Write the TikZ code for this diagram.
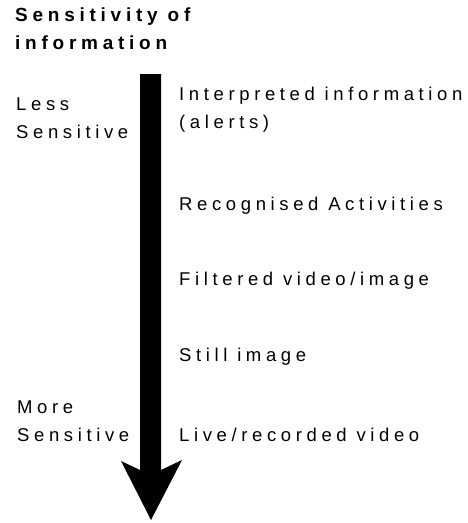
\documentclass[tikz,border=0pt]{standalone}
\usepackage{fontspec}
\setmainfont{Liberation Sans}[LetterSpace=25]
\newcommand{\sensitivityarrow}[1][]
{\begin{scope}
	\coordinate (T1) at (140pt,-74pt);
	\coordinate (T2) at (161pt,-74pt);
	\coordinate (N2) at (161pt,-470pt);
	\coordinate (H2) at (182pt,-460pt);
	\coordinate (TIP) at (151pt,-520pt);
	\coordinate (H1) at (121pt,-461pt);
	\coordinate (N1) at (140pt,-470pt);
	\fill [#1] (T1) -- (T2) -- (N2) -- (H2) -- (TIP) -- (H1) -- (N1) -- cycle;
	\end{scope}
}
\tikzset{lbl/.style={anchor=base west,inner sep=0pt,align=left,font=\fontsize{18.5}{28}\selectfont}}

\begin{document}
\begin{tikzpicture}[>=latex]
		\useasboundingbox (0,0) rectangle (467pt,-523pt);
		% two-line nodes: base is the last line
		\node[lbl,font=\fontsize{19}{28}\selectfont\bfseries] (title) at (15pt,-49pt) {Sensitivity of\\information};
		\node[lbl] (less) at (16pt,-138pt) {Less\\Sensitive};
		\node[lbl] (more) at (17pt,-441pt) {More\\Sensitive};
		\sensitivityarrow[black];
		\node[lbl] (interp) at (179pt,-128pt) {Interpreted information\\(alerts)};
		\node[lbl] (recog) at (179pt,-210pt) {Recognised Activities};
		\node[lbl] (filt) at (179pt,-285pt) {Filtered video/image};
		\node[lbl] (still) at (179pt,-361pt) {Still image};
		\node[lbl] (live) at (179pt,-441pt) {Live/recorded video};
\end{tikzpicture}
\end{document}
